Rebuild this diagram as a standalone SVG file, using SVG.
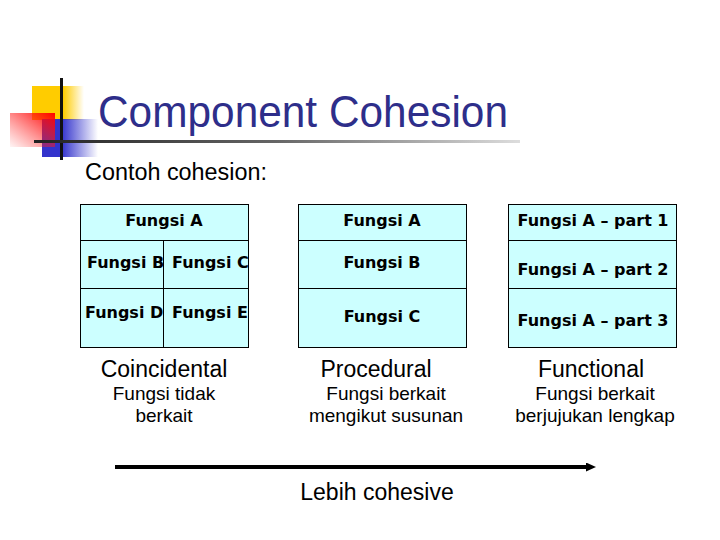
<svg xmlns="http://www.w3.org/2000/svg" width="720" height="540" viewBox="0 0 720 540">
<defs>
<linearGradient id="gY" x1="0" y1="0" x2="1" y2="0"><stop offset="0" stop-color="#ffcc00"/><stop offset="0.6" stop-color="#ffcc00"/><stop offset="1" stop-color="#ffcc00" stop-opacity="0"/></linearGradient>
<linearGradient id="gB" x1="0" y1="0" x2="1" y2="0"><stop offset="0" stop-color="#3333cc"/><stop offset="0.35" stop-color="#3333cc"/><stop offset="1" stop-color="#3333cc" stop-opacity="0"/></linearGradient>
<linearGradient id="gR" x1="0" y1="1" x2="1" y2="0"><stop offset="0" stop-color="#ff3333" stop-opacity="0.05"/><stop offset="1" stop-color="#ff0000"/></linearGradient>
<linearGradient id="gL" x1="0" y1="0" x2="1" y2="0"><stop offset="0" stop-color="#222222"/><stop offset="0.5" stop-color="#666666"/><stop offset="1" stop-color="#dddddd"/></linearGradient>
<marker id="ah" markerWidth="10" markerHeight="9" refX="0" refY="4.5" orient="auto" markerUnits="userSpaceOnUse"><path d="M0,0 L10,4.5 L0,9 z" fill="#000"/></marker>
<style>
.box{fill:#ccffff;stroke:#000;stroke-width:1}
.bt{font-family:"DejaVu Sans",Verdana,sans-serif;font-weight:bold;font-size:16px;fill:#000}
.cat{font-family:"Liberation Sans",Arial,sans-serif;font-size:23px;fill:#000;text-anchor:middle}
.sub{font-family:"Liberation Sans",Arial,sans-serif;font-size:19px;fill:#000;text-anchor:middle}
</style>
</defs>
<rect width="720" height="540" fill="#fff"/>
<g id="logo">
<rect x="32" y="86" width="52" height="34" fill="url(#gY)"/>
<rect x="42" y="119" width="56" height="38" fill="url(#gB)"/>
<rect x="10" y="113" width="45" height="34" fill="url(#gR)"/>
<rect x="60" y="78" width="3" height="82" fill="#111"/>
<rect x="34" y="140" width="486" height="3" fill="url(#gL)"/>
</g>
<text id="title" x="98" y="127" font-family="Liberation Sans,Arial,sans-serif" font-size="44" fill="#2e2e8a" textLength="410" lengthAdjust="spacingAndGlyphs">Component Cohesion</text>
<text id="subtitle" x="85" y="180" font-family="Liberation Sans,Arial,sans-serif" font-size="23" fill="#000" textLength="182" lengthAdjust="spacingAndGlyphs">Contoh cohesion:</text>
<g id="coincidental">
<rect class="box" x="80.5" y="204.5" width="168" height="36"/>
<rect class="box" x="80.5" y="240.5" width="83" height="48"/>
<rect class="box" x="163.5" y="240.5" width="85" height="48"/>
<rect class="box" x="80.5" y="288.5" width="83" height="59"/>
<rect class="box" x="163.5" y="288.5" width="85" height="59"/>
<text class="bt" x="164" y="226" text-anchor="middle">Fungsi A</text>
<text class="bt" x="87" y="268">Fungsi B</text>
<text class="bt" x="172" y="268">Fungsi C</text>
<text class="bt" x="85" y="318">Fungsi D</text>
<text class="bt" x="172" y="318">Fungsi E</text>
<text class="cat" x="164" y="377">Coincidental</text>
<text class="sub" x="164" y="400">Fungsi tidak</text>
<text class="sub" x="164" y="422">berkait</text>
</g>
<g id="procedural">
<rect class="box" x="298.5" y="204.5" width="168" height="36"/>
<rect class="box" x="298.5" y="240.5" width="168" height="48"/>
<rect class="box" x="298.5" y="288.5" width="168" height="59"/>
<text class="bt" x="382" y="226" text-anchor="middle">Fungsi A</text>
<text class="bt" x="382" y="268" text-anchor="middle">Fungsi B</text>
<text class="bt" x="382" y="322" text-anchor="middle">Fungsi C</text>
<text class="cat" x="376" y="377">Procedural</text>
<text class="sub" x="386" y="400">Fungsi berkait</text>
<text class="sub" x="386" y="422">mengikut susunan</text>
</g>
<g id="functional">
<rect class="box" x="508.5" y="204.5" width="168" height="36"/>
<rect class="box" x="508.5" y="240.5" width="168" height="48"/>
<rect class="box" x="508.5" y="288.5" width="168" height="59"/>
<text class="bt" x="593" y="226" text-anchor="middle">Fungsi A – part 1</text>
<text class="bt" x="593" y="275" text-anchor="middle">Fungsi A – part 2</text>
<text class="bt" x="593" y="326" text-anchor="middle">Fungsi A – part 3</text>
<text class="cat" x="591" y="377">Functional</text>
<text class="sub" x="595" y="400">Fungsi berkait</text>
<text class="sub" x="595" y="422">berjujukan lengkap</text>
</g>
<g id="connectors">
<line x1="115" y1="467" x2="586" y2="467" stroke="#000" stroke-width="4" marker-end="url(#ah)"/>
</g>
<text id="arrowlabel" x="377" y="500" class="cat" font-size="22.5">Lebih cohesive</text>
</svg>
